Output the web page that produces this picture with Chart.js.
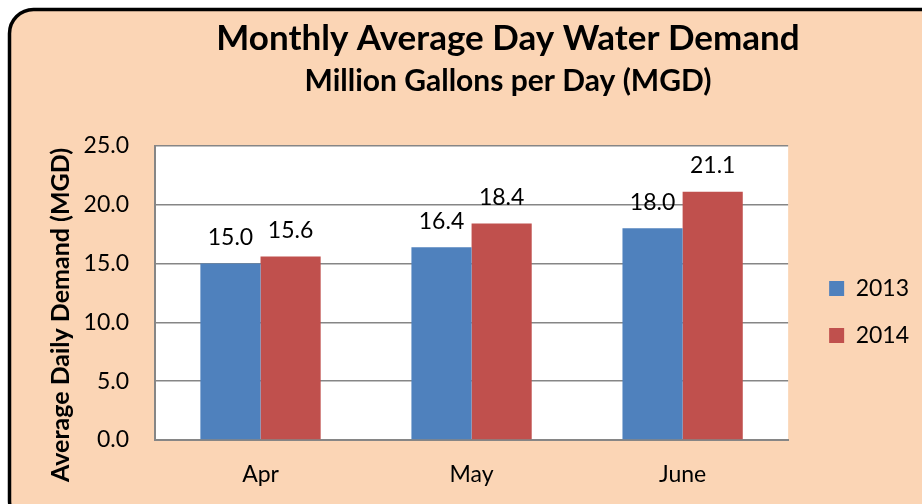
<!DOCTYPE html>
<html>
<head>
<meta charset="utf-8">
<script src="https://cdn.jsdelivr.net/npm/chart.js@4.4.1/dist/chart.umd.min.js"></script>
<style>
  html, body { margin: 0; padding: 0; background: #fff; }
  #wrap { width: 922px; height: 504px; }
</style>
</head>
<body>
<div id="wrap"><canvas id="demandChart" width="922" height="504"></canvas></div>
<script>
const months = ["Apr", "May", "June"];
const demand2013 = [15.0, 16.4, 18.0];
const demand2014 = [15.6, 18.4, 21.1];
const seriesNames = ["2013", "2014"];
const yTicks = [0, 5, 10, 15, 20, 25];

Chart.defaults.font.family = "Lato, 'Open Sans', sans-serif";
Chart.defaults.color = "#000";

// peach rounded panel behind everything, white plot area
const panelBg = {
  id: "panelBg",
  beforeDraw(chart) {
    const { ctx, chartArea } = chart;
    ctx.save();
    ctx.fillStyle = "#fff";
    ctx.fillRect(0, 0, chart.width, chart.height);
    ctx.beginPath();
    ctx.roundRect(9.5, 9.5, 935, 515, 24);
    ctx.fillStyle = "#FBD5B5";
    ctx.fill();
    ctx.lineWidth = 3.5;
    ctx.strokeStyle = "#000";
    ctx.stroke();
    ctx.fillStyle = "#fff";
    ctx.fillRect(chartArea.left, chartArea.top, chartArea.right - chartArea.left, chartArea.bottom - chartArea.top);
    ctx.restore();
  }
};

// move titles, legend and the y title to where the original has them
const nudge = {
  id: "nudge",
  afterLayout(chart) {
    chart.boxes.forEach((b) => {
      if (b.position === "top") {
        b.left += 37;
        b.right += 37;
      }
    });
    const lg = chart.legend;
    lg.left += 17;
    lg.right += 17;
    lg.top += 58;
    lg.bottom += 58;

    const y = chart.scales.y;
    if (!y._origDrawTitle) {
      y._origDrawTitle = y.drawTitle;
      y.drawTitle = function () {
        this.ctx.save();
        this.ctx.translate(0, 22);
        this._origDrawTitle();
        this.ctx.restore();
      };
    }
  }
};

const valueLabels = {
  id: "valueLabels",
  afterDatasetsDraw(chart) {
    const { ctx } = chart;
    ctx.save();
    ctx.font = "23px Lato";
    ctx.fillStyle = "#000";
    ctx.textAlign = "center";
    ctx.textBaseline = "middle";
    chart.data.datasets.forEach((ds, i) => {
      chart.getDatasetMeta(i).data.forEach((bar, j) => {
        ctx.fillText(ds.data[j].toFixed(1), bar.x, bar.y - 26);
      });
    });
    ctx.restore();
  }
};

new Chart(document.getElementById("demandChart"), {
  type: "bar",
  data: {
    labels: months,
    datasets: [
      { label: seriesNames[0], data: demand2013, backgroundColor: "#4F81BD" },
      { label: seriesNames[1], data: demand2014, backgroundColor: "#C0504D" },
    ],
  },
  options: {
    responsive: false,
    animation: false,
    layout: { padding: { top: 4, left: 40, right: 20, bottom: 0 } },
    datasets: { bar: { barPercentage: 1, categoryPercentage: 0.57 } },
    plugins: {
      tooltip: { enabled: false },
      title: {
        display: true,
        text: "Monthly Average Day Water Demand",
        font: { size: 35, weight: "bold" },
        padding: { top: 14, bottom: 3 },
      },
      subtitle: {
        display: true,
        text: "Million Gallons per Day (MGD)",
        color: "#000",
        font: { size: 30, weight: "bold" },
        padding: { top: 0, bottom: 47 },
      },
      legend: {
        position: "right",
        labels: {
          boxWidth: 15,
          boxHeight: 15,
          padding: 24,
          font: { size: 23 },
        },
      },
    },
    scales: {
      x: {
        grid: { display: false, drawTicks: false },
        border: { display: true, color: "#868686", width: 2 },
        ticks: { padding: 21, font: { size: 23 } },
        afterFit(scale) {
          scale.height = 64;
        },
      },
      y: {
        min: 0,
        max: 25,
        afterBuildTicks(scale) {
          scale.ticks = yTicks.map((v) => ({ value: v }));
        },
        afterFit(scale) {
          scale.width = 115;
        },
        grid: { color: "#868686", lineWidth: 1.5, drawTicks: false },
        border: { display: true, color: "#868686", width: 2 },
        ticks: {
          padding: 26,
          font: { size: 23 },
          callback: (v) => Number(v).toFixed(1),
        },
        title: {
          display: true,
          text: "Average Daily Demand (MGD)",
          font: { size: 25, weight: "bold" },
          padding: { top: 6, bottom: 0 },
        },
      },
    },
  },
  plugins: [panelBg, nudge, valueLabels],
});
</script>
</body>
</html>
